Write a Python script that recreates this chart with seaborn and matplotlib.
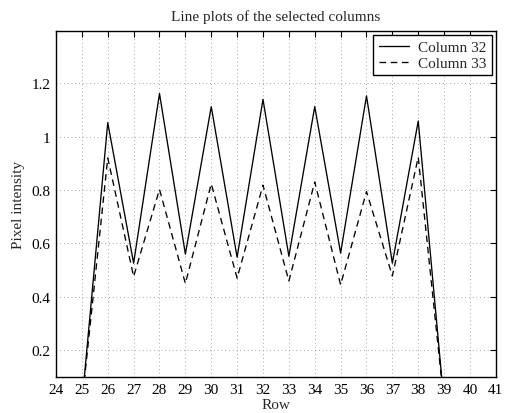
import matplotlib
matplotlib.use("Agg")
import matplotlib.pyplot as plt
import seaborn as sns
import pandas as pd
import numpy as np

# Intensity profiles along two neighbouring image columns
rows = [25, 26, 27, 28, 29, 30, 31, 32, 33, 34, 35, 36, 37, 38, 39]
column_32 = [0.0, 1.052, 0.526, 1.161, 0.560, 1.112, 0.548, 1.139,
             0.552, 1.112, 0.564, 1.152, 0.526, 1.058, 0.0]
column_33 = [0.0, 0.920, 0.476, 0.802, 0.450, 0.823, 0.470, 0.818,
             0.459, 0.830, 0.445, 0.794, 0.478, 0.923, 0.0]
series_names = ["Column 32", "Column 33"]

x_ticks = list(range(24, 42))
y_ticks = [0.2, 0.4, 0.6, 0.8, 1.0, 1.2]
y_tick_labels = ["0.2", "0.4", "0.6", "0.8", "1", "1.2"]

df = pd.DataFrame({
    "Row": rows * 2,
    "Pixel intensity": column_32 + column_33,
    "Series": [series_names[0]] * len(rows) + [series_names[1]] * len(rows),
})

sns.set_style("white")
plt.rcParams["font.family"] = ["Liberation Serif", "DejaVu Serif"]
plt.rcParams["xtick.direction"] = "in"
plt.rcParams["ytick.direction"] = "in"

fig = plt.figure(figsize=(5.05, 4.14), dpi=100)
ax = fig.add_axes([0.1109, 0.087, 0.871, 0.8357])

sns.lineplot(
    data=df, x="Row", y="Pixel intensity", style="Series",
    dashes={"Column 32": "", "Column 33": (5, 3.5)},
    color="black", linewidth=0.95, ax=ax, legend=True,
)

ax.set_xlim(24, 41)
ax.set_ylim(0.1, 1.395)
ax.set_xticks(x_ticks)
ax.set_xticklabels([str(t) for t in x_ticks])
ax.set_yticks(y_ticks)
ax.set_yticklabels(y_tick_labels)

ax.grid(True, linestyle=(0, (1, 3.5)), color="#888888", linewidth=0.6)
ax.tick_params(axis="both", which="both", direction="in", length=4, width=0.8,
               top=True, right=True, labelsize=11, pad=4, colors="black")
for side in ax.spines.values():
    side.set_visible(True)
    side.set_color("black")
    side.set_linewidth(1.0)

ax.set_title("Line plots of the selected columns", fontsize=11, pad=8)
ax.set_xlabel("Row", fontsize=11, labelpad=2)
ax.set_ylabel("Pixel intensity", fontsize=11, labelpad=5)

leg = ax.legend(loc="upper right", fontsize=11, frameon=True, fancybox=False,
                edgecolor="black", framealpha=1, handlelength=2.0,
                borderpad=0.35, labelspacing=0.15, handletextpad=0.6,
                borderaxespad=0.25)
leg.get_frame().set_linewidth(1.0)

fig.savefig("out.png", dpi=100)
